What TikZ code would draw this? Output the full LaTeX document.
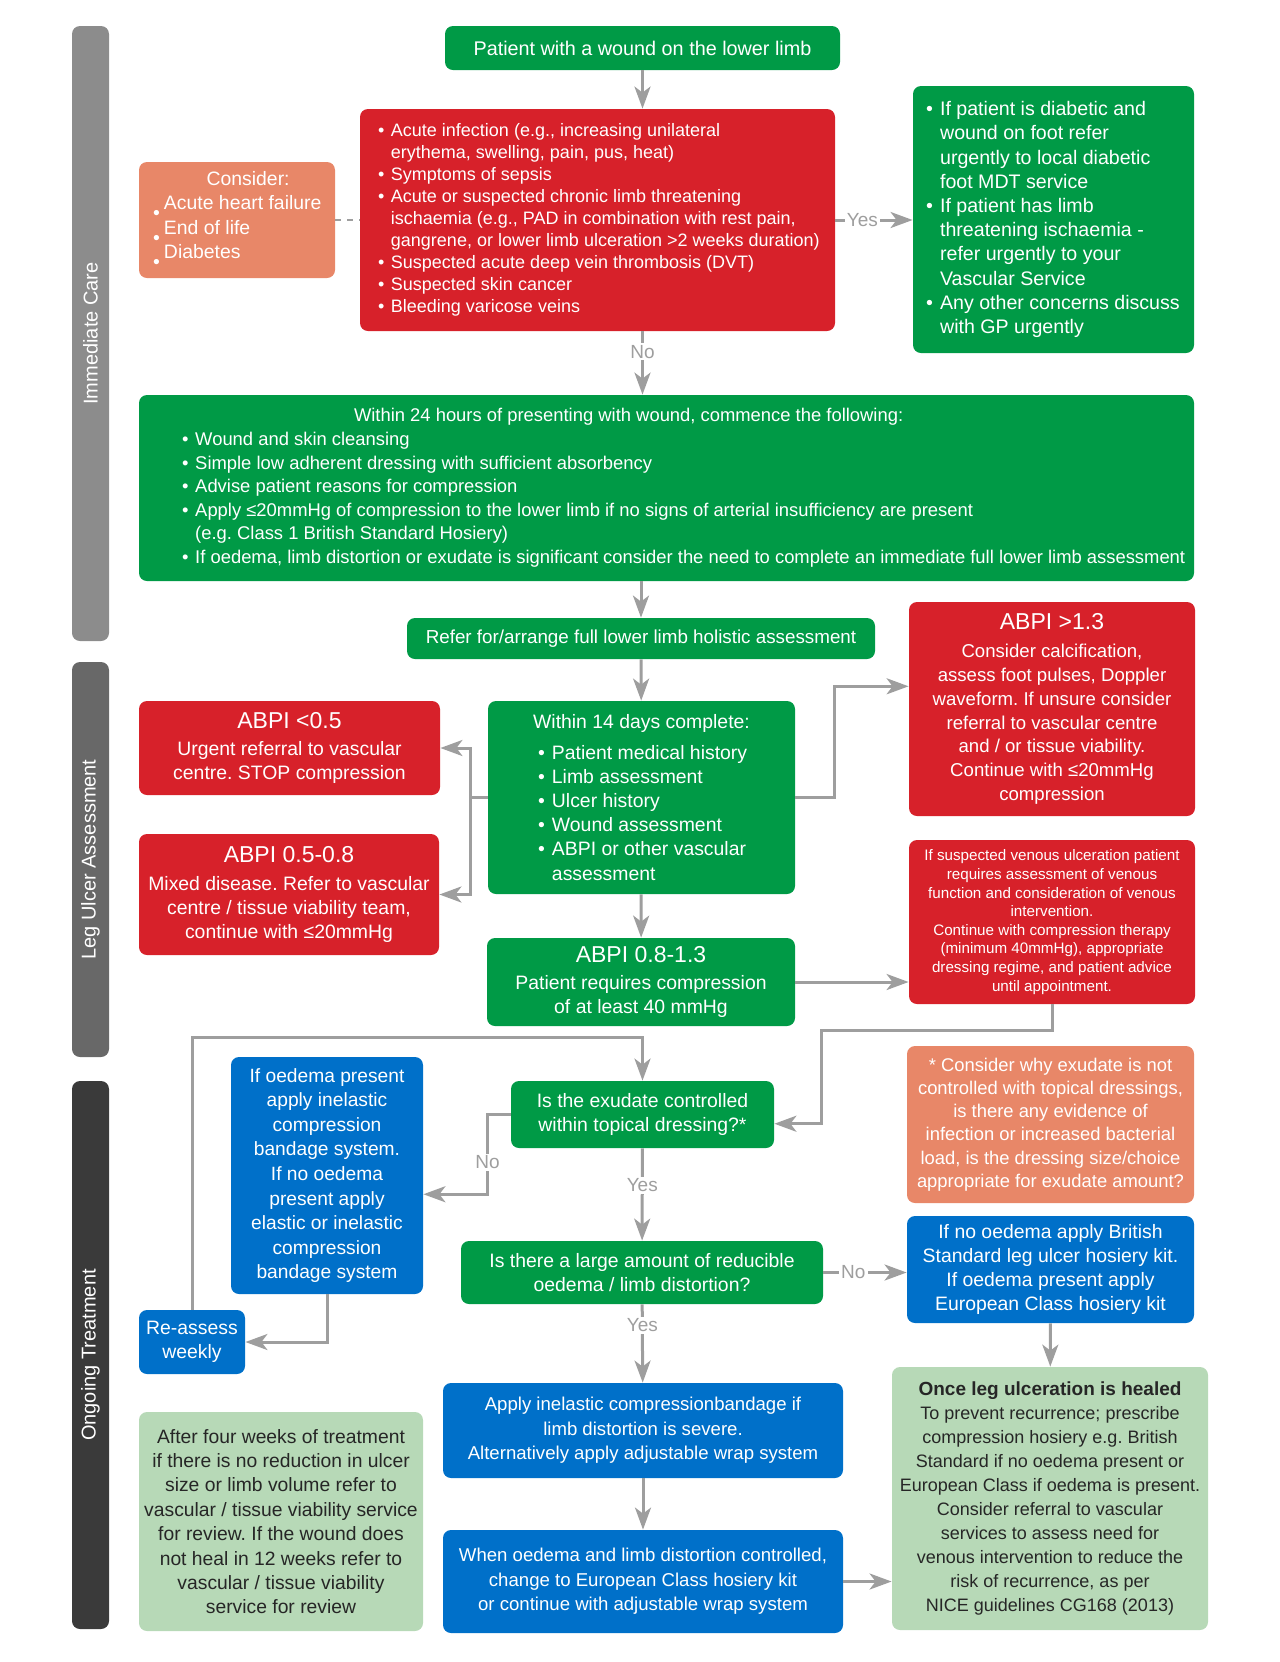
\documentclass[tikz,border=0pt]{standalone}
\usepackage{fontspec}
\setmainfont{Liberation Sans}
\usepackage{tikz}
\usetikzlibrary{arrows.meta}
\frenchspacing

\definecolor{nhsgreen}{RGB}{0,154,70}
\definecolor{nhsred}{RGB}{215,33,42}
\definecolor{nhsorange}{RGB}{232,135,104}
\definecolor{nhsblue}{RGB}{0,112,201}
\definecolor{nhspale}{RGB}{183,217,183}
\definecolor{arrowgray}{RGB}{158,158,158}
\definecolor{barA}{RGB}{140,140,140}
\definecolor{barB}{RGB}{104,104,104}
\definecolor{barC}{RGB}{58,58,58}

\newcommand{\fsz}[2]{\fontsize{#1}{#2}\selectfont}
\newcommand{\bul}{\makebox[0.72em][l]{\textbullet}}
\newcommand{\bind}{\hspace*{0.72em}}
\newcommand{\lowbul}{\makebox[5.5pt][l]{\raisebox{-5pt}{\textbullet}}}
\newcommand{\lrow}[1]{\makebox[\rowwd][l]{#1}}

\begin{document}
\begin{tikzpicture}[x=0.5pt,y=-0.5pt,
  box/.style={rounded corners=4pt, inner sep=0pt, align=center, text=white, font=\fsz{9.7}{12.1}},
  grnbox/.style={box, fill=nhsgreen},
  redbox/.style={box, fill=nhsred},
  orgbox/.style={box, fill=nhsorange},
  blubox/.style={box, fill=nhsblue},
  palebox/.style={box, fill=nhspale, text=black!85},
  sidebar/.style={rounded corners=4pt, rotate=90, inner sep=0pt, minimum height=18.5pt, text=white, font=\fsz{10}{12}},
  lbl/.style={text=arrowgray, fill=white, inner sep=1pt, font=\fsz{9.5}{11}}]
\useasboundingbox (0,0) rectangle (1280,1662);

% stage bars
\begin{scope}
    \node[sidebar, fill=barA, minimum width=307.5pt] (care) at (90.5,333.5) {Immediate Care};
    \node[sidebar, fill=barB, minimum width=197.5pt] (assess) at (90.5,859.5) {Leg Ulcer Assessment};
    \node[sidebar, fill=barC, minimum width=274pt] (ongoing) at (90.5,1355) {Ongoing Treatment};
\end{scope}

% immediate care
\node[grnbox, minimum width=197.5pt, minimum height=22pt, font=\fsz{9.9}{12}] (start) at (642.5,48) {Patient with a wound on the lower limb};

\def\rowwd{219.5pt}
\node[redbox, minimum width=237.5pt, minimum height=111pt, font=\fsz{9}{11}] (alert) at (597.5,220) {
    \lrow{\bul Acute infection (e.g., increasing unilateral}\\
    \lrow{\bind erythema, swelling, pain, pus, heat)}\\
    \lrow{\bul Symptoms of sepsis}\\
    \lrow{\bul Acute or suspected chronic limb threatening}\\
    \lrow{\bind ischaemia (e.g., PAD in combination with rest pain,}\\
    \lrow{\bind gangrene, or lower limb ulceration >2 weeks duration)}\\
    \lrow{\bul Suspected acute deep vein thrombosis (DVT)}\\
    \lrow{\bul Suspected skin cancer}\\
    \lrow{\bul Bleeding varicose veins}};

\def\rowwd{84pt}
\node[orgbox, minimum width=98pt, minimum height=58pt, font=\fsz{9.7}{12.2}] (consider) at (237,220) {
    \lrow{\hspace*{26.8pt}Consider:}\\
    \lrow{\lowbul Acute heart failure}\\
    \lrow{\lowbul End of life}\\
    \lrow{\lowbul Diabetes}};

\def\rowwd{127.5pt}
\node[grnbox, minimum width=140.5pt, minimum height=133.5pt, font=\fsz{9.8}{12.1}] (urgent) at (1053.5,219.5) {
    \lrow{\bul If patient is diabetic and}\\
    \lrow{\bind wound on foot refer}\\
    \lrow{\bind urgently to local diabetic}\\
    \lrow{\bind foot MDT service}\\
    \lrow{\bul If patient has limb}\\
    \lrow{\bind threatening ischaemia -}\\
    \lrow{\bind refer urgently to your}\\
    \lrow{\bind Vascular Service}\\
    \lrow{\bul Any other concerns discuss}\\
    \lrow{\bind with GP urgently}};

\def\rowwd{484.5pt}
\node[grnbox, minimum width=527.5pt, minimum height=93pt, font=\fsz{9.2}{11.8}] (first) at (666.5,488) {
    \lrow{\hspace*{86pt}Within 24 hours of presenting with wound, commence the following:}\\
    \lrow{\bul Wound and skin cleansing}\\
    \lrow{\bul Simple low adherent dressing with sufficient absorbency}\\
    \lrow{\bul Advise patient reasons for compression}\\
    \lrow{\bul Apply ≤20mmHg of compression to the lower limb if no signs of arterial insufficiency are present}\\
    \lrow{\bind (e.g. Class 1 British Standard Hosiery)}\\
    \lrow{\bul If oedema, limb distortion or exudate is significant consider the need to complete an immediate full lower limb assessment}};

% leg ulcer assessment
\node[grnbox, minimum width=234pt, minimum height=20.5pt, font=\fsz{9.4}{11}] (refer) at (641,638.5) {Refer for/arrange full lower limb holistic assessment};

\node[redbox, minimum width=150.5pt, minimum height=47pt] (abpiA) at (289.5,748) {{\fsz{11.5}{13}ABPI <0.5}\\[1pt] Urgent referral to vascular\\ centre. STOP compression};
\node[redbox, minimum width=150pt, minimum height=60.5pt] (abpiB) at (289,894.5) {{\fsz{11.5}{13}ABPI 0.5-0.8}\\[2pt] Mixed disease. Refer to vascular\\ centre / tissue viability team,\\ continue with ≤20mmHg};

\def\rowwd{103.5pt}
\node[grnbox, minimum width=153.5pt, minimum height=96.5pt] (fourteen) at (641.5,797.5) {Within 14 days complete:\\[3pt]
    \lrow{\bul Patient medical history}\\
    \lrow{\bul Limb assessment}\\
    \lrow{\bul Ulcer history}\\
    \lrow{\bul Wound assessment}\\
    \lrow{\bul ABPI or other vascular}\\
    \lrow{\bind assessment}};

\node[redbox, minimum width=143pt, minimum height=107pt, font=\fsz{9.3}{11.9}] (abpiH) at (1052,709) {{\fsz{11.5}{13}ABPI >1.3}\\[2pt] Consider calcification,\\ assess foot pulses, Doppler\\ waveform. If unsure consider\\ referral to vascular centre\\ and / or tissue viability.\\ Continue with ≤20mmHg\\ compression};
\node[redbox, minimum width=143pt, minimum height=82pt, font=\fsz{7.6}{9.3}] (venous) at (1052,922) {If suspected venous ulceration patient\\ requires assessment of venous\\ function and consideration of venous\\ intervention.\\ Continue with compression therapy\\ (minimum 40mmHg), appropriate\\ dressing regime, and patient advice\\ until appointment.};
\node[grnbox, minimum width=154pt, minimum height=44pt] (abpiM) at (641,982) {{\fsz{11.5}{13}ABPI 0.8-1.3}\\[1pt] Patient requires compression\\ of at least 40 mmHg};

% ongoing treatment
\node[blubox, minimum width=96pt, minimum height=118.5pt, font=\fsz{9.6}{12.3}] (inelastic) at (327,1175.5) {If oedema present\\ apply inelastic\\ compression\\ bandage system.\\ If no oedema\\ present apply\\ elastic or inelastic\\ compression\\ bandage system};
\node[grnbox, minimum width=131.5pt, minimum height=33.5pt] (exudate) at (642.5,1114.5) {Is the exudate controlled\\ within topical dressing?*};
\node[orgbox, minimum width=143.5pt, minimum height=78.5pt, font=\fsz{9.2}{11.65}] (why) at (1050.5,1124.5) {* Consider why exudate is not\\ controlled with topical dressings,\\ is there any evidence of\\ infection or increased bacterial\\ load, is the dressing size/choice\\ appropriate for exudate amount?};
\node[grnbox, minimum width=181pt, minimum height=31.5pt] (reducible) at (642,1272.5) {Is there a large amount of reducible\\ oedema / limb distortion?};
\node[blubox, minimum width=143.5pt, minimum height=53.5pt, font=\fsz{9.7}{12}] (hosiery) at (1050.5,1269.5) {If no oedema apply British\\ Standard leg ulcer hosiery kit.\\ If oedema present apply\\ European Class hosiery kit};
\node[blubox, minimum width=53pt, minimum height=32pt] (weekly) at (192,1342) {Re-assess\\ weekly};
\node[blubox, minimum width=200pt, minimum height=47.5pt, font=\fsz{9.3}{12.2}] (bandage) at (643,1430.5) {Apply inelastic compressionbandage if\\ limb distortion is severe.\\ Alternatively apply adjustable wrap system};
\node[palebox, minimum width=142pt, minimum height=109.5pt, font=\fsz{9.65}{12.2}] (review) at (281,1521.5) {After four weeks of treatment\\ if there is no reduction in ulcer\\ size or limb volume refer to\\ vascular / tissue viability service\\ for review. If the wound does\\ not heal in 12 weeks refer to\\ vascular / tissue viability\\ service for review};
\node[blubox, minimum width=200pt, minimum height=51.5pt, font=\fsz{9.3}{12.2}] (controlled) at (643,1581.5) {When oedema and limb distortion controlled,\\ change to European Class hosiery kit\\ or continue with adjustable wrap system};
\node[palebox, minimum width=158pt, minimum height=131.5pt, font=\fsz{9}{12}] (healed) at (1050,1498.5) {{\fsz{9.5}{12}\bfseries Once leg ulceration is healed}\\ To prevent recurrence; prescribe\\ compression hosiery e.g. British\\ Standard if no oedema present or\\ European Class if oedema is present.\\ Consider referral to vascular\\ services to assess need for\\ venous intervention to reduce the\\ risk of recurrence, as per\\ NICE guidelines CG168 (2013)};

\begin{scope}[>={Stealth[length=11pt,width=8pt,inset=3pt]}, color=arrowgray, line width=1.5pt]
    \path [->] (start.south) edge (start.south |- alert.north);
    \path [->] (alert.south -| start.south) edge node[lbl,pos=0.32] {No} (first.north -| start.south);
    \path [->] (alert.east) edge node[lbl,pos=0.35] {Yes} (alert.east -| urgent.west);
    \path [dashed, line width=1pt, dash pattern=on 3pt off 3pt] (consider.east) edge (consider.east -| alert.west);
    \path [->] (first.south -| refer.north) edge (refer.north);
    \path [->] (refer) edge (fourteen);
    \path [->] (fourteen) edge (abpiM);
    \path [->] (abpiM.east) edge (abpiM.east -| venous.west);
    \path [->] (exudate) edge node[lbl,pos=0.4] {Yes} (reducible);
    \path [->] (reducible.east) edge node[lbl,pos=0.36] {No} (reducible.east -| hosiery.west);
    \path [->] (reducible) edge node[lbl,pos=0.27] {Yes} (bandage);
    \path [->] (hosiery) edge (healed);
    \path [->] (bandage) edge (controlled);
    \path [->] (controlled.east) edge (controlled.east -| healed.west);
\end{scope}

\begin{scope}[->, >={Stealth[length=11pt,width=8pt,inset=3pt]}, color=arrowgray, line width=1.5pt]
    \draw (fourteen.west) -- ++(-17,0) |- (abpiA.east);
    \draw (fourteen.west) -- ++(-17,0) |- (abpiB.east);
    \draw (fourteen.east) -- ++(39,0) |- (abpiH.171);
    \draw (venous.south) -- ++(0,26) -- ++(-231,0) |- (exudate.-4);
    \draw (exudate.west) -- ++(-23,0) |- node[lbl,pos=0.3] {No} (inelastic.-11);
    \draw (inelastic.south) |- (weekly.east);
    \draw (weekly.north) -- ++(0,-272) -| (exudate.north);
\end{scope}
\end{tikzpicture}
\end{document}
